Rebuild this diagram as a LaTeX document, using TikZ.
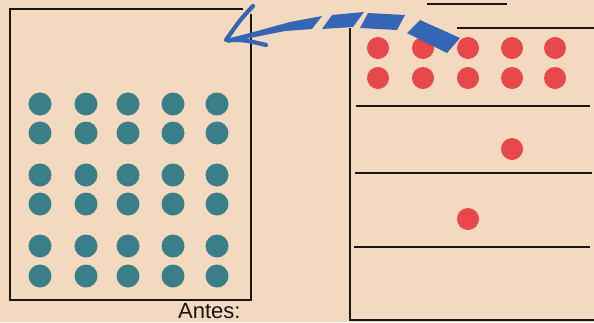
\documentclass[tikz,border=0pt]{standalone}
\usepackage{fontspec}
\setmainfont{Liberation Sans}
\definecolor{paper}{HTML}{F3D9BF}
\definecolor{tealdot}{HTML}{3A7F88}
\definecolor{reddot}{HTML}{E9484A}
\definecolor{arrowblue}{HTML}{3566B6}
\definecolor{ink}{HTML}{1A1512}
\tikzset{
  rule/.style={draw=ink, line width=2.9pt},
  tdot/.style={fill=tealdot},
  rdot/.style={fill=reddot},
  bluebar/.style={fill=arrowblue},
  barb/.style={draw=arrowblue, line width=4.2pt, line cap=round, line join=round},
}
\begin{document}
\begin{tikzpicture}[x=1pt,y=-1pt]
\fill[paper] (0,0) rectangle (594,322);
\useasboundingbox (0,0) rectangle (594,322);
\begin{scope}
\clip (0,0) rectangle (594,322);
% left box
\draw[rule] (243,9) -- (10,9) -- (10,300) -- (251,300) -- (251,14);
% teal dots
\foreach \y in {104,133,175,204,246,276}
  \foreach \x in {40,86,128,173,217}
    \fill[tdot] (\x,\y) circle (11.5);
% right box
\draw[rule] (350,28) -- (350,320) -- (594,320);
\draw[rule] (457,28) -- (594,28);
\draw[rule] (356,106) -- (590,106);
\draw[rule] (355,173) -- (592,173);
\draw[rule] (354,247) -- (590,247);
\draw[draw=ink, line width=2.4pt] (427,4) -- (507,4);
% red dots
\foreach \y in {48,78}
  \foreach \x in {378,423,468,512,555}
    \fill[rdot] (\x,\y) circle (11);
\fill[rdot] (512,149) circle (11);
\fill[rdot] (468,219) circle (11);
% blue dashed arrow
\fill[bluebar] (226,39) -- (250,33) -- (290,22) -- (322,16) -- (312,29) -- (285,31) -- (250,38) -- (228,43) -- cycle;
\fill[bluebar] (332,15) -- (364,12) -- (353,27) -- (322,29) -- cycle;
\fill[bluebar] (368,13) -- (405,15) -- (397,30) -- (360,28) -- cycle;
\fill[bluebar] (420,20) -- (460,38) -- (447,53) -- (407,33) -- cycle;
\draw[barb] (253,6) .. controls (240,20) .. (226,40) .. controls (245,40) .. (266,45);
\end{scope}
% caption
\node[anchor=base west, inner sep=0pt, font=\fontsize{22}{24}\selectfont, text=ink] (antes) at (178,318.5) {Antes:};
\end{tikzpicture}
\end{document}
